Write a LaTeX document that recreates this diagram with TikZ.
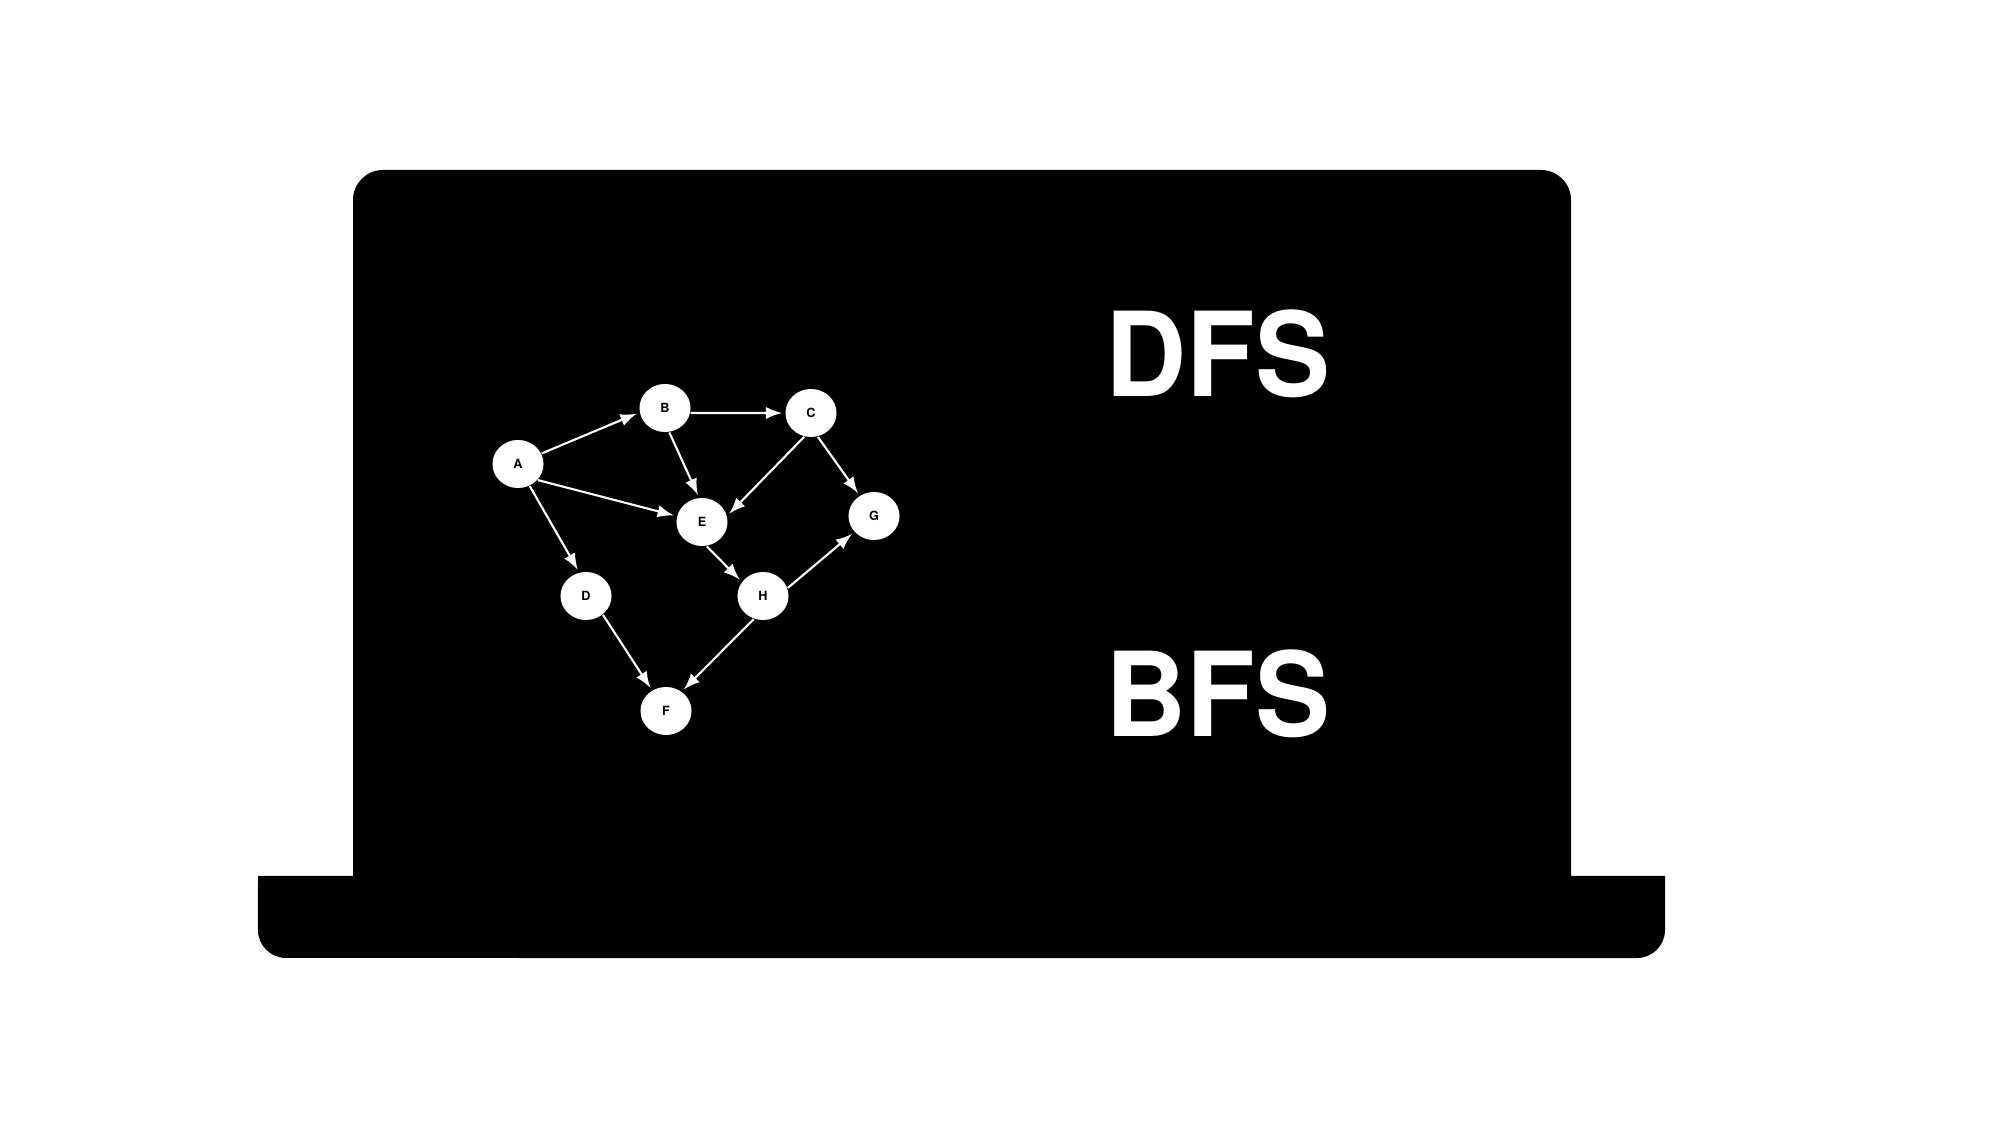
\documentclass[tikz,border=0pt]{standalone}
\usepackage{fontspec}
\setmainfont{TeX Gyre Heros}
\newfontfamily\titlefont[FakeStretch=0.96]{TeX Gyre Heros}
\usetikzlibrary{shapes,arrows}

\begin{document}
\begin{tikzpicture}[x=0.01cm,y=0.01cm,
		vertex/.style={ellipse,fill=white,inner sep=0pt,minimum width=0.51cm,minimum height=0.48cm,font=\fontsize{3.6}{4}\selectfont\bfseries},
		edge/.style={white,line width=0.6pt,-latex,shorten >=0.8pt},
		title/.style={white,inner sep=0pt,anchor=base,font=\fontsize{33.3}{36}\titlefont\bfseries}]
		\useasboundingbox (0,0) rectangle (1990,1142);
		\fill[white] (0,0) rectangle (1990,1142);
		% laptop
		\fill (258,266) -- (353,266) -- (353,942) arc (180:90:0.3cm) -- (1541,972) arc (90:0:0.3cm) -- (1571,266) -- (1665,266) -- (1665,212) arc (0:-90:0.28cm) -- (286,184) arc (270:180:0.28cm) -- cycle;
		% graph
		\node[vertex] (A) at (518,678) {A};
		\node[vertex] (B) at (665,734) {B};
		\node[vertex] (C) at (811,729) {C};
		\node[vertex] (E) at (702,620) {E};
		\node[vertex] (G) at (874,626) {G};
		\node[vertex] (D) at (586,546) {D};
		\node[vertex] (H) at (763,546) {H};
		\node[vertex] (F) at (666,431) {F};
		\foreach \s/\a/\t/\b in {A/24/B/190, A/321/E/167, A/298/D/106, B/349/C/180, B/280/E/97,
				C/254/E/14, C/286/G/125, E/281/H/146, H/18/G/219, H/248/F/51, D/312/F/124}
			\draw[edge] (\s.\a) -- (\t.\b);
		% titles
		\node[title] (dfs) at (1218,745) {DFS};
		\node[title] (bfs) at (1218,405) {BFS};
	\end{tikzpicture}
\end{document}
